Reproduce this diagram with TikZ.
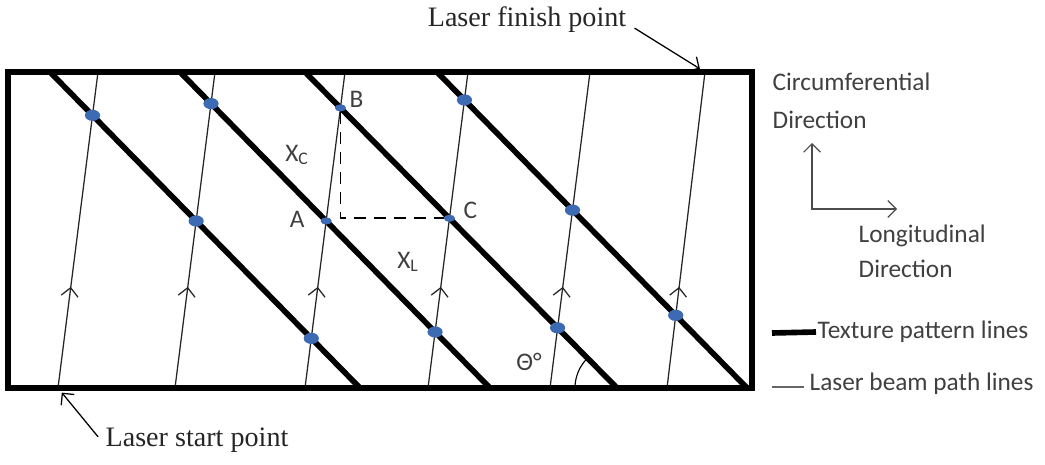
\documentclass[tikz,border=0pt]{standalone}
\usepackage{fontspec}
\setmainfont{Liberation Serif}
\newfontfamily\calib{Carlito}
\usepackage{tikz}
\usetikzlibrary{positioning, arrows.meta, calc, shapes.geometric, decorations.markings}
\definecolor{dotblue}{HTML}{3D6BB3}
\definecolor{labelgray}{HTML}{404040}

\begin{document}
\begin{tikzpicture}[x=0.25mm, y=-0.25mm,
    >={Straight Barb[length=6pt, width=12pt]}, % offene Pfeilspitzen wie im Bild
    font=\calib\fontsize{18}{25}\selectfont, % Calibri-artige Schrift
    frame/.style={line width=4pt},
    texture/.style={line width=4pt},
    beam/.style={line width=0.9pt, black!85, postaction={decorate},
        decoration={markings, mark=at position 0.32 with {\arrow{>}}}},
    dot/.style={ellipse, fill=dotblue, minimum width=3.8mm, minimum height=2.8mm, inner sep=0pt},
    smalldot/.style={dot, minimum width=2.8mm, minimum height=1.8mm},
    lbl/.style={text=labelgray, inner sep=1pt},
    note/.style={font=\rmfamily\fontsize{20}{24}\selectfont, text=black!85}
]
\useasboundingbox (0,0) rectangle (1045,465);

% 1. Endpunkte der Texturlinien (oben -> unten)
\coordinate (t1s) at (50,72);  \coordinate (t1e) at (360,388);
\coordinate (t2s) at (180,72); \coordinate (t2e) at (490,388);
\coordinate (t3s) at (305,72); \coordinate (t3e) at (617,388);
\coordinate (t4s) at (437,72); \coordinate (t4e) at (747,388);

% 2. Endpunkte der Laserbahnen (unten -> oben)
\coordinate (b1s) at (58,388);  \coordinate (b1e) at (98,72);
\coordinate (b2s) at (175,388); \coordinate (b2e) at (215,72);
\coordinate (b3s) at (305,388); \coordinate (b3e) at (345,72);
\coordinate (b4s) at (428,388); \coordinate (b4e) at (468,72);
\coordinate (b5s) at (550,388); \coordinate (b5e) at (590,72);
\coordinate (b6s) at (667,388); \coordinate (b6e) at (705,72);

% 3. Laserbahnen und Texturlinien
\draw[beam] (b1s) -- (b1e);
\draw[beam] (b2s) -- (b2e);
\draw[beam] (b3s) -- (b3e);
\draw[beam] (b4s) -- (b4e);
\draw[beam] (b5s) -- (b5e);
\draw[beam] (b6s) -- (b6e);
\draw[texture] (t1s) -- (t1e);
\draw[texture] (t2s) -- (t2e);
\draw[texture] (t3s) -- (t3e);
\draw[texture] (t4s) -- (t4e);

% 4. Rahmen
\draw[frame] (8,72) rectangle (752,388);

% 5. Schnittpunkte (blaue Punkte)
\node[dot] (p11) at (intersection of b1s--b1e and t1s--t1e) {};
\node[dot] (p21) at (intersection of b2s--b2e and t1s--t1e) {};
\node[dot] (p22) at (intersection of b2s--b2e and t2s--t2e) {};
\node[dot] (p31) at (intersection of b3s--b3e and t1s--t1e) {};
\node[smalldot] (A) at (intersection of b3s--b3e and t2s--t2e) {};
\node[smalldot] (B) at (intersection of b3s--b3e and t3s--t3e) {};
\node[dot] (p42) at (intersection of b4s--b4e and t2s--t2e) {};
\node[smalldot] (C) at (intersection of b4s--b4e and t3s--t3e) {};
\node[dot] (p44) at (intersection of b4s--b4e and t4s--t4e) {};
\node[dot] (p53) at (intersection of b5s--b5e and t3s--t3e) {};
\node[dot] (p54) at (intersection of b5s--b5e and t4s--t4e) {};
\node[dot] (p64) at (intersection of b6s--b6e and t4s--t4e) {};

% 6. Abstaende X_C und X_L (gestrichelt)
\draw[line width=1.2pt, dash pattern=on 3mm off 2mm] (B) -- (B |- C) -- (C);

% 7. Beschriftungen im Feld
\node[lbl] (labB) at ($(B)+(16,-9)$) {B};
\node[lbl] (labA) at ($(A)+(-29,-2)$) {A};
\node[lbl] (labC) at ($(C)+(21,-8)$) {C};
\node[lbl] (labXc) at (297,155) {X\textsubscript{C}};
\node[lbl] (labXl) at (408,262) {X\textsubscript{L}};
\node[lbl] (theta) at (529,362) {Θ°};
\draw[line width=0.8pt] ($(t3e)+(-42,0)$) arc[start angle=180, end angle=134.5, radius=10.5mm];

% 8. Start- und Endpunkt des Lasers
\node[note] (finish) at (527,20) {Laser finish point};
\node[note] (start) at (197,440) {Laser start point};
\draw[->, line width=0.9pt, shorten <=1mm, shorten >=1.5mm] ([yshift=-1.5mm]finish.east) -- (b6e);
\draw[->, line width=0.9pt, shorten <=1mm, shorten >=1.5mm] (start.west) -- (b1s);

% 9. Richtungen und Legende
\coordinate (axC) at (812,143);
\coordinate (axL) at (897,209);
\draw[<->, line width=0.8pt, black!70] (axC) |- (axL);
\node[lbl, align=left, anchor=west] (circ) at (771,101) {Circumferential\\[2pt]Direction};
\node[lbl, align=left, anchor=west] (longi) at (857,251) {Longitudinal\\Direction};
\node[lbl, anchor=west] (texlbl) at (816,332) {Texture pattern lines};
\coordinate (legT) at (772,333);
\draw[texture] (legT) -- (texlbl.west);
\node[lbl, anchor=west] (beamlbl) at (808,384) {Laser beam path lines};
\coordinate (legB) at (772,387);
\draw[line width=0.8pt, black!60, shorten >=1mm] (legB) -- (legB -| beamlbl.west);

\end{tikzpicture}
\end{document}
